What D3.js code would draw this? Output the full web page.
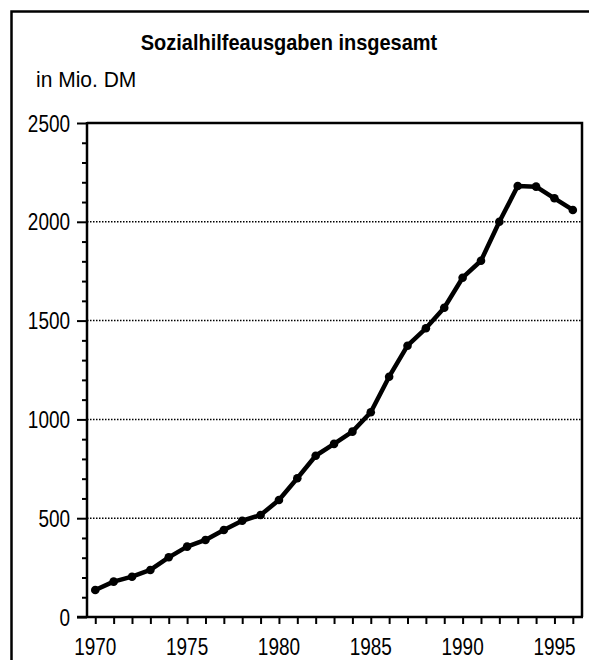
<!DOCTYPE html>
<html>
<head>
<meta charset="utf-8">
<script src="https://cdn.jsdelivr.net/npm/d3@7"></script>
<style>
  body { margin: 0; background: #fff; }
  svg { display: block; }
  .tick-label { font-family: "Liberation Sans", Arial, sans-serif; font-size: 24px; fill: #000; }
</style>
</head>
<body>
<div id="chart"></div>
<script>
// Data
const years = [1970, 1971, 1972, 1973, 1974, 1975, 1976, 1977, 1978, 1979,
               1980, 1981, 1982, 1983, 1984, 1985, 1986, 1987, 1988, 1989,
               1990, 1991, 1992, 1993, 1994, 1995, 1996];
const spending = [137, 179, 204, 238, 302, 356, 390, 440, 487, 516,
                  592, 702, 816, 876, 938, 1036, 1216, 1373, 1461, 1565,
                  1717, 1803, 2000, 2181, 2178, 2119, 2060];
const yMajorTicks = [0, 500, 1000, 1500, 2000, 2500];
const xLabelTicks = [1970, 1975, 1980, 1985, 1990, 1995];

const titleText = "Sozialhilfeausgaben insgesamt";
const unitText = "in Mio. DM";

// Set dimensions
const W = 589, H = 660;
const plot = {left: 87, top: 123, right: 582, bottom: 617};
const narrow = 0.79; // tick labels are a condensed face

const svg = d3.select("#chart")
    .append("svg")
    .attr("width", W)
    .attr("height", H);

// Outer frame (runs off the right and bottom edges)
svg.append("rect")
    .attr("x", 11.5)
    .attr("y", 11.5)
    .attr("width", 600)
    .attr("height", 700)
    .attr("fill", "none")
    .attr("stroke", "#000")
    .attr("stroke-width", 2.5);

// Scales
const x = d3.scaleLinear()
    .domain([1969.55, 1996.5])
    .range([plot.left, plot.right]);

const y = d3.scaleLinear()
    .domain([0, 2500])
    .range([plot.bottom, plot.top]);

// Title and unit
svg.append("text")
    .attr("transform", "translate(289,50) scale(1,1.08)")
    .attr("text-anchor", "middle")
    .style("font-family", "'Liberation Sans', Arial, sans-serif")
    .style("font-weight", "bold")
    .style("font-size", "20px")
    .text(titleText);

svg.append("text")
    .attr("transform", "translate(36,87) scale(1,1.05)")
    .style("font-family", "'Liberation Sans', Arial, sans-serif")
    .style("font-size", "21px")
    .text(unitText);

// Dotted gridlines
svg.append("g")
    .selectAll("line")
    .data(yMajorTicks.filter(d => d > 0 && d < 2500))
    .join("line")
    .attr("x1", plot.left)
    .attr("x2", plot.right)
    .attr("y1", d => y(d))
    .attr("y2", d => y(d))
    .attr("stroke", "#000")
    .attr("stroke-width", 1.5)
    .attr("stroke-dasharray", "1.5,1.5");

// Frame top and right
svg.append("path")
    .attr("d", `M${plot.left},${plot.top}H${plot.right}V${plot.bottom}`)
    .attr("fill", "none")
    .attr("stroke", "#000")
    .attr("stroke-width", 2.5);

// Y axis: major ticks every 500, minor every 100
const yAxis = svg.append("g")
    .attr("transform", `translate(${plot.left},0)`)
    .call(d3.axisLeft(y).tickValues(d3.range(0, 2501, 100))
        .tickSize(5).tickFormat(""));
yAxis.select(".domain").remove();
yAxis.selectAll(".tick line")
    .attr("stroke", "#000")
    .attr("stroke-width", 2)
    .attr("x2", d => d % 500 === 0 ? -10 : -5);

svg.append("g")
    .selectAll("text")
    .data(yMajorTicks)
    .join("text")
    .attr("class", "tick-label")
    .attr("transform", d => `translate(70,${y(d)}) scale(${narrow},1)`)
    .attr("dy", "0.36em")
    .attr("text-anchor", "end")
    .text(d => d);

svg.append("line")
    .attr("x1", plot.left)
    .attr("x2", plot.left)
    .attr("y1", plot.top - 1)
    .attr("y2", plot.bottom + 1)
    .attr("stroke", "#000")
    .attr("stroke-width", 2.5);

// X axis: tick every year
const xAxis = svg.append("g")
    .attr("transform", `translate(0,${plot.bottom})`)
    .call(d3.axisBottom(x).tickValues(years).tickSize(7).tickFormat(""));
xAxis.select(".domain").remove();
xAxis.selectAll(".tick line")
    .attr("stroke", "#000")
    .attr("stroke-width", 2);

svg.append("g")
    .selectAll("text")
    .data(xLabelTicks)
    .join("text")
    .attr("class", "tick-label")
    .attr("transform", d => `translate(${x(d)},655) scale(${narrow},1)`)
    .attr("text-anchor", "middle")
    .text(d => d);

svg.append("line")
    .attr("x1", plot.left - 10)
    .attr("x2", plot.right + 1)
    .attr("y1", plot.bottom)
    .attr("y2", plot.bottom)
    .attr("stroke", "#000")
    .attr("stroke-width", 2.5);

// Data line
const line = d3.line()
    .x((d, i) => x(years[i]))
    .y(d => y(d));

svg.append("path")
    .datum(spending)
    .attr("d", line)
    .attr("fill", "none")
    .attr("stroke", "#000")
    .attr("stroke-width", 4.5)
    .attr("stroke-linejoin", "round");

svg.append("g")
    .selectAll("circle")
    .data(spending)
    .join("circle")
    .attr("cx", (d, i) => x(years[i]))
    .attr("cy", d => y(d))
    .attr("r", 4.3)
    .attr("fill", "#000");
</script>
</body>
</html>
